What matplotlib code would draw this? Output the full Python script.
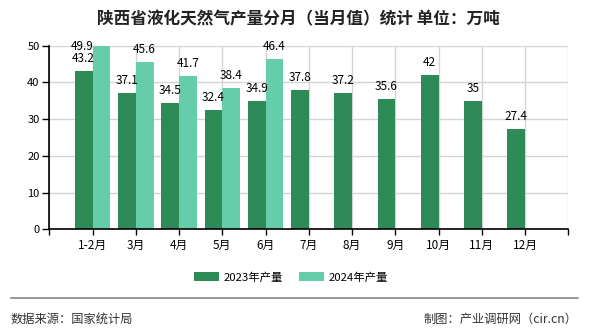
import matplotlib
matplotlib.use("Agg")
import matplotlib.pyplot as plt
import numpy as np
from matplotlib.patches import Patch

plt.rcParams['font.family'] = ['Noto Sans CJK SC', 'DejaVu Sans']

categories = ['1-2月', '3月', '4月', '5月', '6月', '7月', '8月', '9月', '10月', '11月', '12月']
values_2023 = [43.2, 37.1, 34.5, 32.4, 34.9, 37.8, 37.2, 35.6, 42, 35, 27.4]
values_2024 = [49.9, 45.6, 41.7, 38.4, 46.4]
series_names = ['2023年产量', '2024年产量']
title = '陕西省液化天然气产量分月（当月值）统计 单位：万吨'
source_left = '数据来源：国家统计局'
source_right = '制图：产业调研网（cir.cn）'

c_dark = '#2E8B57'
c_light = '#66CDAA'

fig = plt.figure(figsize=(5.9, 3.3), dpi=100)
ax = fig.add_axes([49.3/590, 1-229.3/330, (568.3-49.3)/590, (229.3-45.7)/330])

x = np.arange(len(categories))
w = 0.41
ax.bar(x - w/2, values_2023, width=w, color=c_dark, zorder=3)
x2 = np.arange(len(values_2024))
ax.bar(x2 + w/2, values_2024, width=w, color=c_light, zorder=3)

ax.set_xlim(-1, 11)
ax.set_ylim(0, 50)
ax.set_yticks(range(0, 51, 10))
ax.set_xticks(range(-1, 12))
ax.set_xticklabels([''] + categories + [''])
ax.grid(True, color='#d4d4d4', linewidth=1, zorder=0)
ax.set_axisbelow(True)
for s in ['top', 'right']:
    ax.spines[s].set_visible(False)
for s in ['left', 'bottom']:
    ax.spines[s].set_color('black')
    ax.spines[s].set_linewidth(1.2)
    ax.spines[s].set_zorder(4)
ax.tick_params(axis='x', direction='out', length=4, width=1, labelsize=8.5, pad=3)
ax.tick_params(axis='y', direction='out', length=5, width=1, labelsize=8, pad=2)

for xi, v in zip(x, values_2023):
    ax.annotate(f'{v:g}', (xi - w/2, v), xytext=(0, 9), textcoords='offset points',
                ha='center', va='center', fontsize=8.5, color='black', zorder=5,
                annotation_clip=False)
for xi, v in zip(x2, values_2024):
    if v > 48:
        ax.annotate(f'{v:g}', (xi + w/2, v), xytext=(-14, 0), textcoords='offset points',
                    ha='center', va='center', fontsize=8.5, color='black', zorder=5,
                    annotation_clip=False)
    else:
        ax.annotate(f'{v:g}', (xi + w/2, v), xytext=(0, 9), textcoords='offset points',
                    ha='center', va='center', fontsize=8.5, color='black', zorder=5,
                    annotation_clip=False)

fig.text(298/590, 1-19.5/330, title, ha='center', va='center', fontsize=12, fontweight='bold', color='#222222')

handles = [Patch(facecolor=c_dark, edgecolor='none'), Patch(facecolor=c_light, edgecolor='none')]
fig.legend(handles, series_names, loc='center', bbox_to_anchor=(291/590, 1-277/330), ncol=2,
           frameon=False, fontsize=8.2, handlelength=2.2, handleheight=0.9, handletextpad=0.4,
           columnspacing=1.4)

fig.add_artist(plt.Line2D([10.7/590, 577.5/590], [1-298.4/330, 1-298.4/330], color='#888888', linewidth=1.2))
fig.text(11/590, 1-319.5/330, source_left, ha='left', va='center', fontsize=8.8, color='#333333')
fig.text(577/590, 1-319.5/330, source_right, ha='right', va='center', fontsize=8.8, color='#333333')

fig.savefig('out.png', dpi=100)
